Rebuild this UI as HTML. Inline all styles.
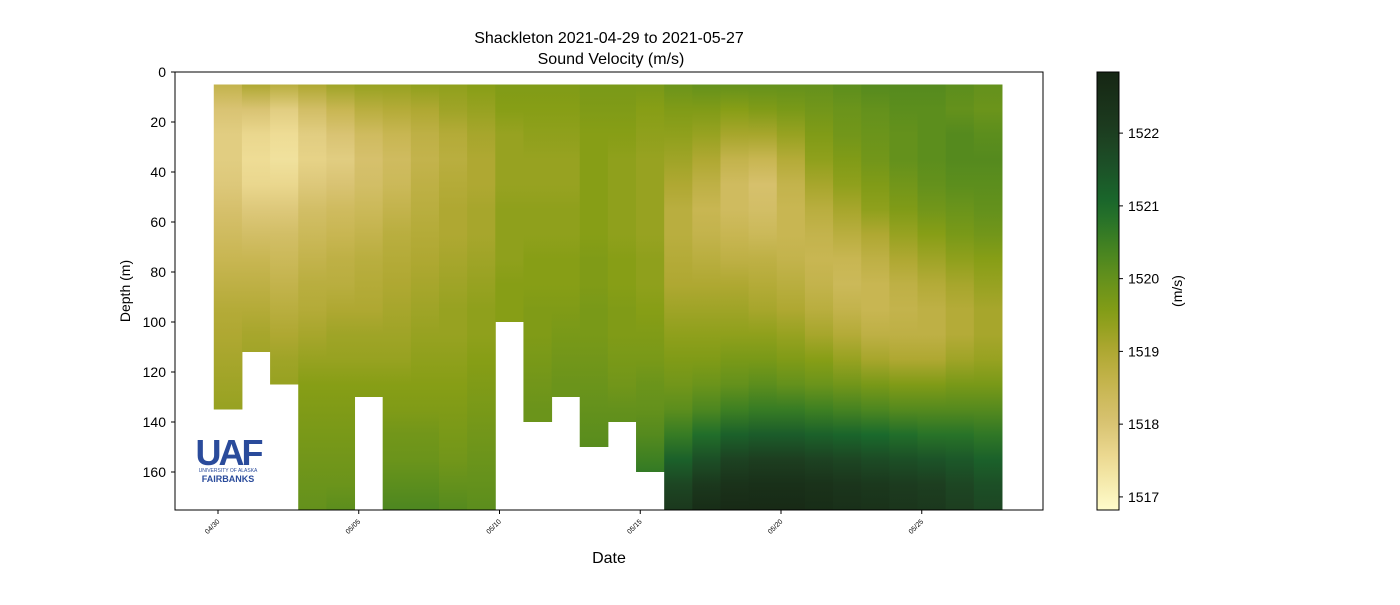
<!DOCTYPE html>
<html><head><meta charset="utf-8"><style>
body{margin:0;background:#fff;width:1400px;height:600px;overflow:hidden;font-family:"Liberation Sans",sans-serif}
</style></head><body>
<svg id="chart" width="1400" height="600" font-family="Liberation Sans, sans-serif">
<defs id="defs"></defs>
<text x="609" y="43" text-anchor="middle" font-size="16">Shackleton 2021-04-29 to 2021-05-27</text>
<text x="611" y="64" text-anchor="middle" font-size="16">Sound Velocity (m/s)</text>
<g id="heat"></g>
<rect x="175" y="72" width="868" height="438" fill="none" stroke="#000" stroke-width="1"/>
<g id="yaxis"></g>
<g id="xaxis"></g>
<text x="130" y="291" text-anchor="middle" font-size="14" transform="rotate(-90 130 291)">Depth (m)</text>
<text x="609" y="563" text-anchor="middle" font-size="16">Date</text>
<g>
<text x="228" y="465" text-anchor="middle" font-size="36" font-weight="bold" fill="#2a4b9b" letter-spacing="-3">UAF</text>
<text x="228" y="472" text-anchor="middle" font-size="5" fill="#2a4b9b">UNIVERSITY OF ALASKA</text>
<text x="228" y="482" text-anchor="middle" font-size="9" font-weight="bold" fill="#2a4b9b">FAIRBANKS</text>
</g>
<g id="cbar"></g>
<text x="1182" y="291" text-anchor="middle" font-size="14" transform="rotate(-90 1182 291)">(m/s)</text>
</svg>
<script>
const depths=[0,10,20,30,40,50,60,70,80,90,100,110,120,130,140,150,160,170];
const maxDepth=[135,112,125,175,175,130,175,175,175,175,100,140,130,150,140,160,175,175,175,175,175,175,175,175,175,175,175,175];
const values=[
[1518.6,1518,1517.8,1517.8,1517.9,1518.1,1518.3,1518.5,1518.7,1518.9,1519,1519.1,1519.2,1519.3,1519.3,1519.3,1519.3,1519.3],
[1519,1518,1517.6,1517.5,1517.6,1517.9,1518.2,1518.5,1518.7,1518.9,1519.1,1519.2,1519.3,1519.3,1519.3,1519.3,1519.3,1519.3],
[1518.8,1517.8,1517.5,1517.4,1517.6,1517.9,1518.2,1518.4,1518.6,1518.8,1519,1519.2,1519.3,1519.3,1519.3,1519.3,1519.3,1519.3],
[1519,1518.2,1517.8,1517.7,1517.9,1518.2,1518.4,1518.6,1518.8,1518.9,1519.1,1519.3,1519.5,1519.6,1519.7,1519.8,1519.9,1520],
[1519.2,1518.5,1518,1517.8,1518,1518.3,1518.5,1518.7,1518.8,1519,1519.2,1519.3,1519.5,1519.6,1519.7,1519.8,1519.9,1520.1],
[1519.3,1518.8,1518.3,1518.1,1518.2,1518.4,1518.6,1518.8,1518.9,1519,1519.2,1519.3,1519.5,1519.6,1519.7,1519.8,1520,1520.1],
[1519.3,1518.9,1518.5,1518.3,1518.4,1518.6,1518.8,1518.9,1519,1519.1,1519.2,1519.3,1519.5,1519.6,1519.8,1519.9,1520.1,1520.3],
[1519.4,1519,1518.7,1518.6,1518.7,1518.8,1518.9,1519,1519.1,1519.2,1519.3,1519.4,1519.5,1519.6,1519.8,1519.9,1520.1,1520.3],
[1519.4,1519.2,1518.9,1518.8,1518.9,1519,1519,1519.1,1519.2,1519.3,1519.3,1519.4,1519.5,1519.6,1519.7,1519.8,1520,1520.2],
[1519.5,1519.3,1519.1,1519,1519,1519.1,1519.1,1519.2,1519.3,1519.4,1519.4,1519.5,1519.6,1519.7,1519.8,1519.9,1520,1520.1],
[1519.6,1519.5,1519.3,1519.3,1519.3,1519.4,1519.4,1519.4,1519.5,1519.5,1519.5,1519.5,1519.5,1519.5,1519.5,1519.5,1519.5,1519.5],
[1519.6,1519.5,1519.4,1519.3,1519.3,1519.4,1519.4,1519.5,1519.5,1519.6,1519.6,1519.7,1519.8,1519.9,1519.9,1519.9,1519.9,1519.9],
[1519.6,1519.5,1519.4,1519.3,1519.3,1519.4,1519.4,1519.5,1519.5,1519.6,1519.7,1519.8,1519.9,1519.9,1519.9,1519.9,1519.9,1519.9],
[1519.7,1519.6,1519.5,1519.5,1519.5,1519.5,1519.5,1519.6,1519.6,1519.7,1519.7,1519.8,1519.9,1520,1520.1,1520.2,1520.2,1520.2],
[1519.7,1519.6,1519.5,1519.4,1519.4,1519.4,1519.4,1519.5,1519.5,1519.6,1519.6,1519.7,1519.8,1520,1520.1,1520.1,1520.1,1520.1],
[1519.7,1519.5,1519.4,1519.3,1519.3,1519.3,1519.3,1519.4,1519.4,1519.5,1519.6,1519.7,1519.9,1520,1520.2,1520.5,1520.8,1521],
[1519.9,1519.6,1519.4,1519.2,1519,1518.8,1518.8,1518.9,1519,1519.2,1519.4,1519.6,1519.8,1520.1,1520.6,1521.2,1521.8,1522.2],
[1520,1519.6,1519.3,1519,1518.7,1518.5,1518.6,1518.8,1519,1519.2,1519.4,1519.6,1519.9,1520.3,1520.9,1521.6,1522.2,1522.6],
[1520,1519.5,1519.1,1518.6,1518.3,1518.3,1518.5,1518.7,1519,1519.2,1519.4,1519.7,1520,1520.5,1521.2,1521.9,1522.4,1522.7],
[1520,1519.6,1519.1,1518.5,1518.1,1518.2,1518.4,1518.7,1518.9,1519.1,1519.4,1519.7,1520.1,1520.6,1521.3,1522,1522.5,1522.7],
[1520,1519.7,1519.3,1518.9,1518.6,1518.5,1518.5,1518.6,1518.8,1519,1519.3,1519.6,1520,1520.6,1521.3,1522,1522.5,1522.7],
[1520,1519.8,1519.6,1519.4,1519.1,1518.8,1518.6,1518.5,1518.6,1518.8,1519.1,1519.5,1519.9,1520.5,1521.2,1521.9,1522.4,1522.6],
[1520.1,1519.9,1519.8,1519.6,1519.4,1519.1,1518.8,1518.5,1518.4,1518.6,1518.9,1519.3,1519.8,1520.4,1521.1,1521.8,1522.3,1522.5],
[1520.2,1520,1519.9,1519.8,1519.6,1519.4,1519,1518.7,1518.5,1518.5,1518.7,1519.1,1519.7,1520.3,1521,1521.7,1522.2,1522.4],
[1520.2,1520.1,1520,1520,1519.8,1519.6,1519.3,1519,1518.7,1518.6,1518.7,1519,1519.6,1520.2,1520.9,1521.6,1522.1,1522.3],
[1520.2,1520.1,1520.1,1520.1,1520,1519.8,1519.5,1519.2,1518.9,1518.7,1518.7,1519,1519.6,1520.2,1520.8,1521.5,1522,1522.2],
[1520.1,1520,1520.2,1520.2,1520.1,1519.9,1519.7,1519.4,1519.1,1518.9,1518.9,1519.2,1519.7,1520.2,1520.8,1521.4,1521.8,1522],
[1520,1519.9,1520.1,1520.2,1520.1,1520,1519.8,1519.5,1519.3,1519.1,1519.1,1519.3,1519.7,1520.2,1520.7,1521.2,1521.6,1521.8]];
const yTicks=[0,20,40,60,80,100,120,140,160];
const xTickDays=[0,5,10,15,20,25];
const xTickLabels=['04/30','05/05','05/10','05/15','05/20','05/25'];
const cbTicks=[1517,1518,1519,1520,1521,1522];
const vMin=1516.82,vMax=1522.84;
const firstDay=-0.15,minDepth=5;
const NS='http://www.w3.org/2000/svg';
const stops=[[1516.8,[255,253,205]],[1517.5,[238,220,149]],[1518,[217,195,115]],[1518.5,[200,182,82]],[1519,[175,168,50]],[1519.5,[135,158,22]],[1520,[100,145,28]],[1520.5,[62,128,34]],[1521,[26,106,44]],[1521.5,[28,83,40]],[1522,[29,62,32]],[1522.9,[22,36,19]]];
function color(v){if(v<=stops[0][0])return rgb(stops[0][1]);for(let i=1;i<stops.length;i++){if(v<=stops[i][0]){const a=stops[i-1],b=stops[i],t=(v-a[0])/(b[0]-a[0]);return rgb(a[1].map((c,k)=>c+(b[1][k]-c)*t));}}return rgb(stops[stops.length-1][1]);}
function rgb(c){return 'rgb('+c.map(Math.round).join(',')+')';}
const xOf=d=>218+d*28.15;
const yOf=m=>72+m*2.5;
const cbY=v=>510-(v-vMin)/(vMax-vMin)*438;
function mk(tag,attrs,parent){const e=document.createElementNS(NS,tag);for(const k in attrs)e.setAttribute(k,attrs[k]);parent.appendChild(e);return e;}
const defs=document.getElementById('defs'),heat=document.getElementById('heat');
values.forEach((col,i)=>{
  const g=mk('linearGradient',{id:'g'+i,gradientUnits:'userSpaceOnUse',x1:0,x2:0,y1:yOf(0),y2:yOf(175)},defs);
  col.forEach((v,j)=>{mk('stop',{offset:(depths[j]+5)/175,'stop-color':color(v)},g);});
  const x0=xOf(firstDay+i),x1=xOf(firstDay+i+1);
  const r=mk('rect',{x:x0,y:yOf(minDepth),width:x1-x0+0.5,height:yOf(maxDepth[i])-yOf(minDepth),fill:'url(#g'+i+')'},heat);
  
  
});
const ya=document.getElementById('yaxis');
yTicks.forEach(t=>{const y=yOf(t);
  const l=mk('line',{x1:171,x2:175,y1:y,y2:y,stroke:'#000'},ya);
  
  
  const tx=mk('text',{x:166,y:y+5,'text-anchor':'end','font-size':14},ya);tx.textContent=t;
  
  
});
const xa=document.getElementById('xaxis');
xTickDays.forEach((d,i)=>{const x=xOf(d);
  const l=mk('line',{x1:x,x2:x,y1:510,y2:514,stroke:'#000'},xa);
  
  
  const tx=mk('text',{x:x+2,y:522,'text-anchor':'end','font-size':7,transform:'rotate(-45 '+(x+2)+' 522)'},xa);tx.textContent=xTickLabels[i];
  
  
});
const cb=document.getElementById('cbar');
const cg=mk('linearGradient',{id:'cbg',x1:0,x2:0,y1:1,y2:0},defs);
for(let k=0;k<=24;k++){const v=vMin+(vMax-vMin)*k/24;mk('stop',{offset:k/24,'stop-color':color(v)},cg);}
const cr=mk('rect',{x:1097,y:72,width:22,height:438,fill:'url(#cbg)',stroke:'#000','stroke-width':1},cb);


cbTicks.forEach(t=>{const y=cbY(t);
  const l=mk('line',{x1:1119,x2:1123,y1:y,y2:y,stroke:'#000'},cb);
  
  
  const tx=mk('text',{x:1128,y:y+5,'font-size':14},cb);tx.textContent=t;
  
  
});
</script>
</body></html>
